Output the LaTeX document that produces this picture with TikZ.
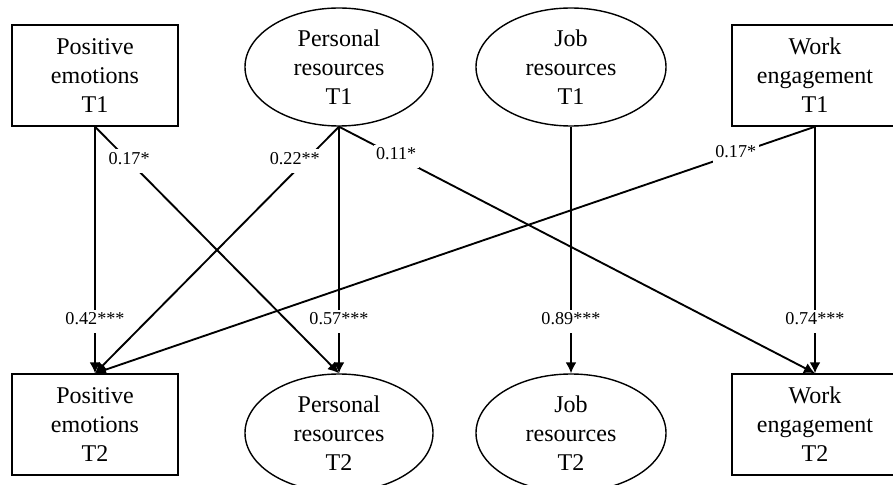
\documentclass[tikz,border=0pt]{standalone}
\usepackage{fontspec}
\setmainfont{Liberation Serif}
\usetikzlibrary{shapes.geometric,arrows.meta}

\tikzset{
  obs/.style={draw,line width=1.2pt,rectangle,inner sep=0pt,
    minimum width=4.98cm,minimum height=3.03cm,align=center,
    font=\fontsize{20.5}{24.7}\selectfont},
  lat/.style={draw,line width=1.2pt,ellipse,inner sep=0pt,
    minimum width=5.64cm,minimum height=3.54cm,align=center,
    font=\fontsize{20.5}{24.7}\selectfont},
  coef/.style={fill=white,font=\fontsize{15.5}{18}\selectfont,
    inner xsep=2pt,inner ysep=6pt,text height=1.5ex,text depth=0.25ex}
}

\begin{document}
\begin{tikzpicture}[x=0.03cm,y=-0.03cm,->,>={Latex[length=3.3mm,width=3.3mm]},line width=1.6pt]
\useasboundingbox (0,0) rectangle (893,485);

% time 1
\node[obs] (pe1) at (95,75.5) {Positive\\emotions\\T1};
\node[lat] (pr1) at (339,67) {Personal\\resources\\T1};
\node[lat,minimum width=5.7cm] (jr1) at (571,67) {Job\\resources\\T1};
\node[obs] (we1) at (815,75.5) {Work\\engagement\\T1};

% time 2
\node[obs] (pe2) at (95,424.5) {Positive\\emotions\\T2};
\node[lat] (pr2) at (339,433) {Personal\\resources\\T2};
\node[lat,minimum width=5.7cm] (jr2) at (571,433) {Job\\resources\\T2};
\node[obs] (we2) at (815,424.5) {Work\\engagement\\T2};

% stability paths
\path (pe1.south) edge node[coef,pos=0.79] {0.42***} (pe2.north);
\path (pr1.south) edge node[coef,pos=0.79] {0.57***} (pr2.north);
\path (jr1.south) edge node[coef,pos=0.79] {0.89***} (jr2.north);
\path (we1.south) edge node[coef,pos=0.79] {0.74***} (we2.north);

% cross-lagged paths
\path (pe1.south) edge node[coef,pos=0.14] {0.17*} (pr2.north);
\path (pr1.south) edge node[coef,pos=0.14,xshift=-0.3cm] {0.22**} (pe2.north);
\path (pr1.south) edge node[coef,pos=0.12] {0.11*} (we2.north);
\path (we1.south) edge node[coef,pos=0.11] {0.17*} (pe2.north);
\end{tikzpicture}
\end{document}
